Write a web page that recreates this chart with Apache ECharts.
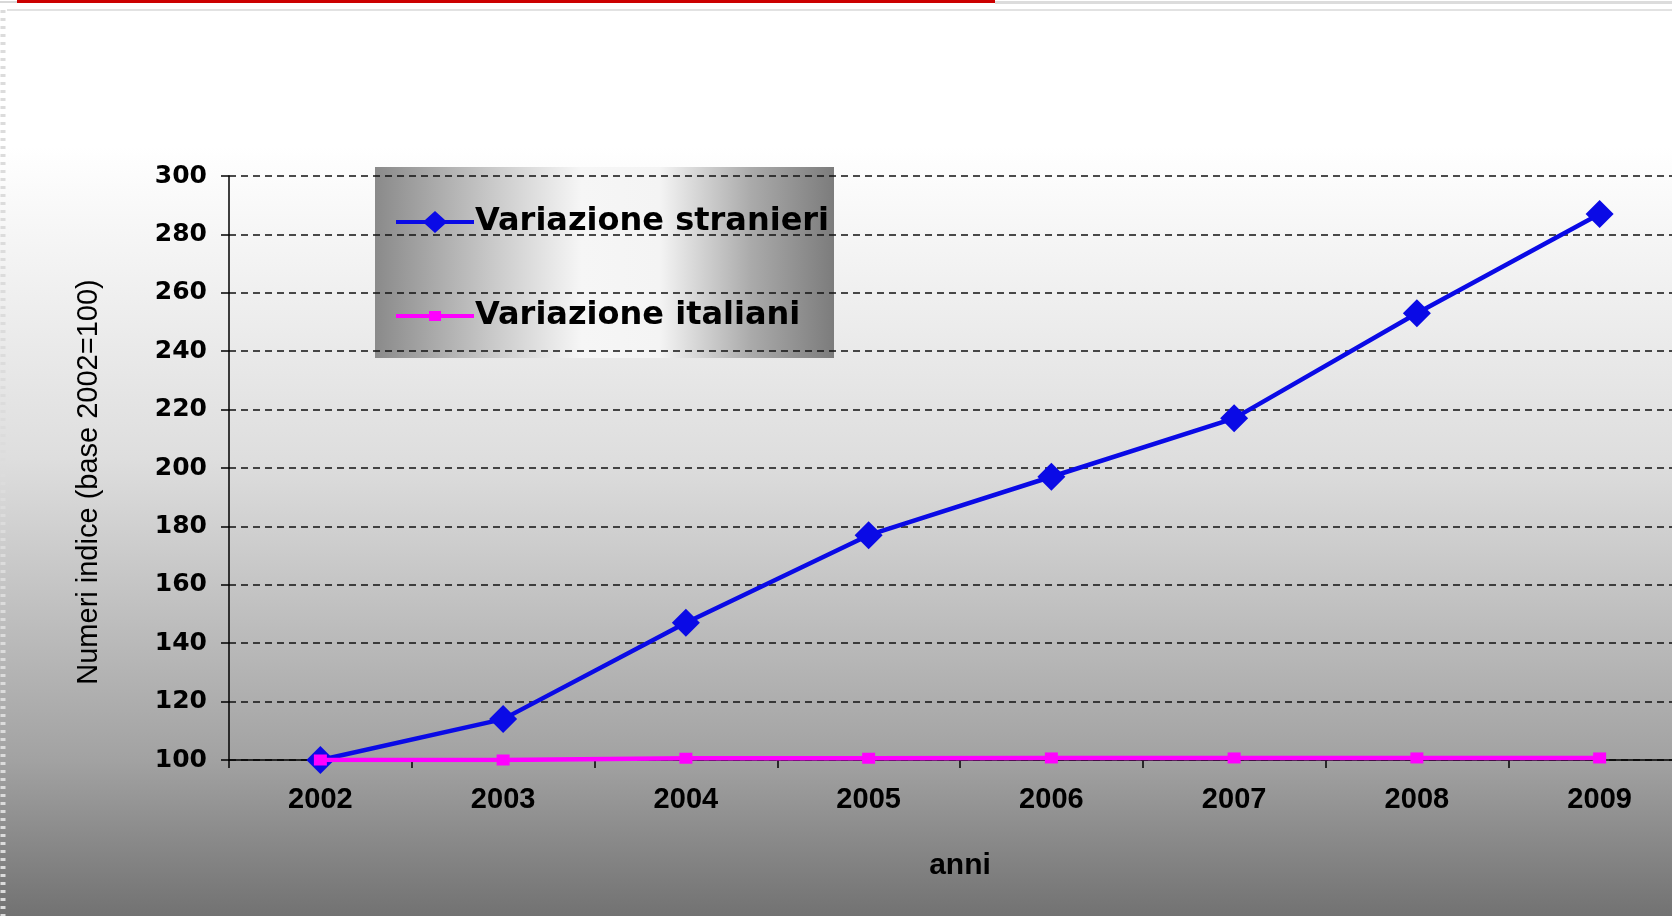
<!DOCTYPE html>
<html>
<head>
<meta charset="utf-8">
<script src="https://cdn.jsdelivr.net/npm/echarts@6/dist/echarts.min.js"></script>
<style>
  html, body { margin: 0; padding: 0; background: #fff; }
  #chart { width: 1672px; height: 916px; }
</style>
</head>
<body>
<div id="chart"></div>
<script>
const years = ['2002', '2003', '2004', '2005', '2006', '2007', '2008', '2009']
const stranieri = [100, 114, 147, 177, 197, 217, 253, 287]
const italiani = [100, 100, 100.6, 100.6, 100.7, 100.7, 100.7, 100.7]
const seriesNames = ['Variazione stranieri', 'Variazione italiani']
const yMin = 100
const yMax = 300
const yStep = 20

// legend icons: line with a diamond / with a small square (bbox kept 78x22)
const iconDiamond = 'path://M0,9L29,9L39,0L49,9L78,9L78,13L49,13L39,22L29,13L0,13Z'
const iconSquare = 'path://M0,0L0.01,0L0,0.01ZM0,22L0.01,22L0,21.99ZM0,9L33,9L33,6L45,6L45,9L78,9L78,13L45,13L45,16L33,16L33,13L0,13Z'

const chart = echarts.init(document.getElementById('chart'))

const bg = new echarts.graphic.LinearGradient(0, 0, 0, 1, [
  { offset: 0, color: '#ffffff' },
  { offset: 0.16, color: '#ffffff' },
  { offset: 0.5, color: '#dedede' },
  { offset: 0.83, color: '#a2a2a2' },
  { offset: 1, color: '#727272' },
])

const legendBg = new echarts.graphic.LinearGradient(0, 0, 1, 0, [
  { offset: 0, color: '#8a8a8a' },
  { offset: 0.26, color: '#cacaca' },
  { offset: 0.45, color: '#f6f6f6' },
  { offset: 0.62, color: '#f4f4f4' },
  { offset: 0.82, color: '#aaaaaa' },
  { offset: 1, color: '#7c7c7c' },
])

chart.setOption({
  backgroundColor: bg,
  animation: false,
  graphic: [
    // slide decoration on top
    { type: 'rect', left: 17, top: 0, shape: { width: 978, height: 3 }, style: { fill: '#cc0000' }, z: 10 },
    { type: 'rect', left: 0, top: 1, shape: { width: 17, height: 2 }, style: { fill: '#d8d8d8' } },
    { type: 'rect', left: 995, top: 1, shape: { width: 677, height: 3 }, style: { fill: '#dcdcdc' } },
    { type: 'rect', left: 7, top: 9, shape: { width: 1665, height: 2 }, style: { fill: '#e2e2e2' } },
    {
      type: 'line', shape: { x1: 3, y1: 10, x2: 3, y2: 916 },
      style: { stroke: '#dcdcdc', lineWidth: 5, lineDash: [3, 5] },
    },
    // legend box
    {
      type: 'rect', left: 375, top: 167, z: 0,
      shape: { width: 459, height: 191 },
      style: { fill: legendBg },
    },
  ],
  grid: {
    left: 229,
    width: 1462,
    top: 176,
    bottom: 156,
    outerBoundsMode: 'none',
  },
  legend: {
    data: [
      { name: seriesNames[0], icon: iconDiamond },
      { name: seriesNames[1], icon: iconSquare },
    ],
    orient: 'vertical',
    left: 391,
    top: 199,
    itemWidth: 78,
    itemHeight: 22,
    itemGap: 58,
    z: 5,
    textStyle: {
      fontFamily: 'DejaVu Sans',
      fontWeight: 'bold',
      fontSize: 32,
      lineHeight: 36,
      color: '#000',
      padding: [0, 0, 0, -4],
    },
  },
  xAxis: {
    type: 'category',
    data: years,
    name: 'anni',
    nameLocation: 'middle',
    nameGap: 91,
    nameTextStyle: {
      fontFamily: 'Liberation Sans',
      fontWeight: 'bold',
      fontSize: 30,
      color: '#000',
    },
    axisLine: { lineStyle: { color: '#000', width: 1.5 } },
    axisTick: { show: true, length: 8, lineStyle: { color: '#000', width: 1.5 } },
    axisLabel: {
      margin: 25,
      fontFamily: 'Liberation Sans',
      fontWeight: 'bold',
      fontSize: 29,
      color: '#000',
    },
  },
  yAxis: {
    type: 'value',
    min: yMin,
    max: yMax,
    interval: yStep,
    name: 'Numeri indice (base 2002=100)',
    nameLocation: 'middle',
    nameGap: 126,
    nameRotate: 90,
    nameTextStyle: {
      fontFamily: 'Liberation Sans',
      fontSize: 29,
      color: '#000',
      padding: [0, 28, 0, 0],
    },
    axisLine: { show: true, lineStyle: { color: '#000', width: 1.5 } },
    axisTick: { show: true, length: 8, lineStyle: { color: '#000', width: 1.5 } },
    axisLabel: {
      margin: 22,
      fontFamily: 'DejaVu Sans',
      fontWeight: 'bold',
      fontSize: 25,
      color: '#000',
    },
    splitLine: {
      show: true,
      lineStyle: { color: '#111', width: 1.5, type: [7, 5] },
    },
  },
  series: [
    {
      name: seriesNames[0],
      type: 'line',
      data: stranieri,
      symbol: 'diamond',
      symbolSize: 28,
      color: '#0a0ae6',
      lineStyle: { color: '#0a0ae6', width: 4.5 },
      itemStyle: { color: '#0a0ae6' },
      z: 3,
    },
    {
      name: seriesNames[1],
      type: 'line',
      data: italiani,
      symbol: 'rect',
      symbolSize: [13, 11],
      color: '#ff00ff',
      lineStyle: { color: '#ff00ff', width: 4.5 },
      itemStyle: { color: '#ff00ff' },
      z: 4,
    },
  ],
})
</script>
</body>
</html>
